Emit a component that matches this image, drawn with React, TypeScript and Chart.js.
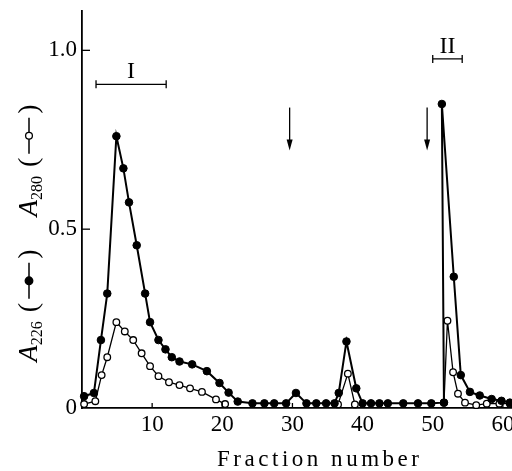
import React, { useEffect, useRef } from "react";
import { Chart, registerables } from "chart.js";

Chart.register(...registerables);

// A226 (filled circles), in drawing order
const a226Fractions = [
  0.3, 1.7, 2.7, 3.6, 4.9, 5.9, 6.7, 7.8, 9.0, 9.7, 10.9, 11.9, 12.8, 13.9, 15.7, 17.8, 19.6,
  20.9, 22.2, 24.3, 26.0, 27.4, 29.1, 30.5, 32.0, 33.4, 34.8, 36.0, 36.6, 37.7, 39.1, 40.0,
  41.2, 42.4, 43.6, 45.8, 47.9, 49.8, 51.6, 51.3, 53.0, 54.0, 55.3, 56.7, 58.4, 59.8, 61.0,
];
const a226Values = [
  0.033, 0.042, 0.19, 0.32, 0.76, 0.67, 0.575, 0.455, 0.32, 0.24, 0.19, 0.164, 0.142, 0.13, 0.122,
  0.103, 0.07, 0.043, 0.018, 0.013, 0.013, 0.013, 0.013, 0.042, 0.013, 0.013, 0.013, 0.013, 0.042,
  0.186, 0.055, 0.013, 0.013, 0.013, 0.013, 0.013, 0.013, 0.013, 0.015, 0.85, 0.367, 0.092, 0.045,
  0.035, 0.025, 0.02, 0.015,
];

// A280 (open circles); null = gap
const a280Fractions = [
  0.3, 1.9, 2.8, 3.6, 4.9, 6.1, 7.3, 8.5, 9.7, 10.9, 12.4, 13.9, 15.4, 17.1, 19.1, 20.4, 28.0,
  36.5, 37.9, 38.9, 45.0, 51.6, 52.1, 52.9, 53.6, 54.6, 56.2, 57.7, 59.5, 61.0,
];
const a280Values: (number | null)[] = [
  0.011, 0.019, 0.092, 0.142, 0.24, 0.214, 0.19, 0.153, 0.117, 0.089, 0.072, 0.064, 0.055, 0.045,
  0.024, 0.011, null, 0.01, 0.096, 0.01, null, 0.015, 0.244, 0.1, 0.04, 0.015, 0.008, 0.012, 0.012,
  0.012,
];

const xTickValues = [10, 20, 30, 40, 50, 60];
const yTickValues = [0, 0.5, 1.0];
const yTickLabels = ["0", "0.5", "1.0"];

const arrowFractions = [29.6, 49.2];
const arrowTopValue = 0.84;
const arrowBottomValue = 0.72;

const bracketLabels = ["I", "II"];
const bracketStarts = [2.0, 50.0];
const bracketEnds = [12.0, 54.2];
const bracketLevels = [0.905, 0.976];

const xTitle = "Fraction number";

const SERIF = '"Liberation Serif", "DejaVu Serif", serif';

const zeroPadding = () => ({ left: 0, top: 0, right: 0, bottom: 0 });

function drawYTitle(ctx: CanvasRenderingContext2D, cx: number, cy: number) {
  type Piece =
    | { kind: "text"; text: string; font: string; dy: number }
    | { kind: "gap"; w: number }
    | { kind: "marker"; w: number; filled: boolean };
  const big = `italic 27px ${SERIF}`;
  const sub = `16px ${SERIF}`;
  const par = `28px ${SERIF}`;
  const pieces: Piece[] = [
    { kind: "text", text: "A", font: big, dy: 0 },
    { kind: "text", text: "226", font: sub, dy: 5 },
    { kind: "gap", w: 9 },
    { kind: "text", text: "(", font: par, dy: 0 },
    { kind: "gap", w: 4 },
    { kind: "marker", w: 36, filled: true },
    { kind: "gap", w: 4 },
    { kind: "text", text: ")", font: par, dy: 0 },
    { kind: "gap", w: 33 },
    { kind: "text", text: "A", font: big, dy: 0 },
    { kind: "text", text: "280", font: sub, dy: 5 },
    { kind: "gap", w: 9 },
    { kind: "text", text: "(", font: par, dy: 0 },
    { kind: "gap", w: 4 },
    { kind: "marker", w: 36, filled: false },
    { kind: "gap", w: 4 },
    { kind: "text", text: ")", font: par, dy: 0 },
  ];
  ctx.save();
  ctx.translate(cx, cy);
  ctx.rotate(-Math.PI / 2);
  ctx.textBaseline = "alphabetic";
  ctx.textAlign = "left";
  const widths = pieces.map((p) => {
    if (p.kind === "text") {
      ctx.font = p.font;
      return ctx.measureText(p.text).width;
    }
    return p.w;
  });
  const total = widths.reduce((a, b) => a + b, 0);
  let x = -total / 2;
  pieces.forEach((p, i) => {
    if (p.kind === "text") {
      ctx.font = p.font;
      ctx.fillStyle = "#000";
      ctx.fillText(p.text, x, p.dy);
    } else if (p.kind === "marker") {
      const my = -8;
      ctx.strokeStyle = "#000";
      ctx.lineWidth = 1.5;
      ctx.beginPath();
      ctx.moveTo(x, my);
      ctx.lineTo(x + p.w, my);
      ctx.stroke();
      ctx.beginPath();
      ctx.arc(x + p.w / 2, my, p.filled ? 3.8 : 3.4, 0, Math.PI * 2);
      ctx.fillStyle = p.filled ? "#000" : "#fff";
      ctx.fill();
      ctx.lineWidth = 1.3;
      ctx.stroke();
    }
    x += widths[i];
  });
  ctx.restore();
}

const overlayPlugin = {
  id: "overlay",
  afterDraw(chart: any) {
    const ctx: CanvasRenderingContext2D = chart.ctx;
    const xs = chart.scales.x;
    const ys = chart.scales.y;
    const area = chart.chartArea;
    ctx.save();
    ctx.strokeStyle = "#000";
    ctx.fillStyle = "#000";
    // inward tick marks
    ctx.lineWidth = 1.3;
    yTickValues.forEach((v) => {
      if (v === 0) return;
      const py = ys.getPixelForValue(v);
      ctx.beginPath();
      ctx.moveTo(area.left, py);
      ctx.lineTo(area.left + 8, py);
      ctx.stroke();
    });
    xTickValues.forEach((v) => {
      const px = xs.getPixelForValue(v);
      ctx.beginPath();
      ctx.moveTo(px, area.bottom);
      ctx.lineTo(px, area.bottom - 5);
      ctx.stroke();
    });
    // arrows
    arrowFractions.forEach((f) => {
      const px = xs.getPixelForValue(f);
      const top = ys.getPixelForValue(arrowTopValue);
      const bot = ys.getPixelForValue(arrowBottomValue);
      ctx.lineWidth = 1.3;
      ctx.beginPath();
      ctx.moveTo(px, top);
      ctx.lineTo(px, bot - 9);
      ctx.stroke();
      ctx.beginPath();
      ctx.moveTo(px - 3, bot - 11);
      ctx.lineTo(px + 3, bot - 11);
      ctx.lineTo(px, bot);
      ctx.closePath();
      ctx.fill();
    });
    // brackets
    bracketLabels.forEach((label, i) => {
      const x1 = xs.getPixelForValue(bracketStarts[i]);
      const x2 = xs.getPixelForValue(bracketEnds[i]);
      const py = ys.getPixelForValue(bracketLevels[i]);
      ctx.lineWidth = 1.3;
      ctx.beginPath();
      ctx.moveTo(x1, py);
      ctx.lineTo(x2, py);
      ctx.moveTo(x1, py - 4);
      ctx.lineTo(x1, py + 4);
      ctx.moveTo(x2, py - 4);
      ctx.lineTo(x2, py + 4);
      ctx.stroke();
      ctx.font = `24px ${SERIF}`;
      ctx.textAlign = "center";
      ctx.textBaseline = "alphabetic";
      ctx.fillText(label, (x1 + x2) / 2, py - 6);
    });
    // x title with letter spacing
    ctx.font = `23px ${SERIF}`;
    ctx.textAlign = "left";
    ctx.textBaseline = "alphabetic";
    const baseW = ctx.measureText(xTitle).width;
    const targetW = 202;
    const spacing = (targetW - baseW) / (xTitle.length - 1);
    let cx = 318 - targetW / 2;
    for (const ch of xTitle) {
      ctx.fillText(ch, cx, 466);
      cx += ctx.measureText(ch).width + spacing;
    }
    ctx.restore();
    drawYTitle(ctx, 37, 233);
  },
};

export default function App() {
  const canvasRef = useRef<HTMLCanvasElement | null>(null);
  useEffect(() => {
    document.body.style.margin = "0";
    const canvas = canvasRef.current;
    if (!canvas) return;
    const a226 = a226Fractions.map((x, i) => ({ x, y: a226Values[i] }));
    const a280 = a280Fractions.map((x, i) => ({ x, y: a280Values[i] }));
    const chart = new Chart(canvas, {
      type: "line",
      data: {
        datasets: [
          {
            label: "A226",
            data: a226 as any,
            borderColor: "#000",
            borderWidth: 2,
            backgroundColor: "#000",
            pointBackgroundColor: "#000",
            pointBorderColor: "#000",
            pointRadius: 3.8,
            pointBorderWidth: 1,
            tension: 0,
            clip: false as any,
          },
          {
            label: "A280",
            data: a280 as any,
            borderColor: "#000",
            borderWidth: 1.3,
            backgroundColor: "#fff",
            pointBackgroundColor: "#fff",
            pointBorderColor: "#000",
            pointRadius: 3.3,
            pointBorderWidth: 1.3,
            tension: 0,
            spanGaps: false,
            clip: false as any,
          },
        ],
      },
      options: {
        animation: false,
        responsive: true,
        maintainAspectRatio: false,
        layout: { autoPadding: false, padding: { top: 11, right: 0, left: 0, bottom: 0 } },
        plugins: {
          legend: { display: false },
          tooltip: { enabled: false },
          title: { display: false },
        },
        scales: {
          x: {
            type: "linear",
            min: 0,
            max: 61.3,
            grid: { display: false, drawTicks: false },
            border: { display: true, color: "#000", width: 1.8 },
            ticks: {
              color: "#000",
              font: { family: SERIF, size: 23 },
              padding: 3,
              maxRotation: 0,
              callback: (v: any) => String(v),
            },
            afterBuildTicks: (scale: any) => {
              scale.ticks = xTickValues.map((v) => ({ value: v }));
            },
            afterFit: (scale: any) => {
              scale.height = 63;
              scale.paddingLeft = 0;
              scale.paddingRight = 0;
              scale.getPadding = zeroPadding;
            },
          },
          y: {
            type: "linear",
            min: 0,
            max: 1.11,
            grid: { display: false, drawTicks: false },
            border: { display: true, color: "#000", width: 1.8 },
            ticks: {
              color: "#000",
              font: { family: SERIF, size: 23 },
              padding: 5,
              callback: (v: any) => {
                const i = yTickValues.findIndex((t) => Math.abs(t - v) < 1e-9);
                return i >= 0 ? yTickLabels[i] : "";
              },
            },
            afterBuildTicks: (scale: any) => {
              scale.ticks = yTickValues.map((v) => ({ value: v }));
            },
            afterFit: (scale: any) => {
              scale.width = 82;
              scale.paddingTop = 0;
              scale.paddingBottom = 0;
              scale.getPadding = zeroPadding;
            },
          },
        },
      },
      plugins: [overlayPlugin],
    });
    return () => chart.destroy();
  }, []);
  return (
    <div style={{ width: 512, height: 471, position: "relative" }}>
      <canvas ref={canvasRef} />
    </div>
  );
}
